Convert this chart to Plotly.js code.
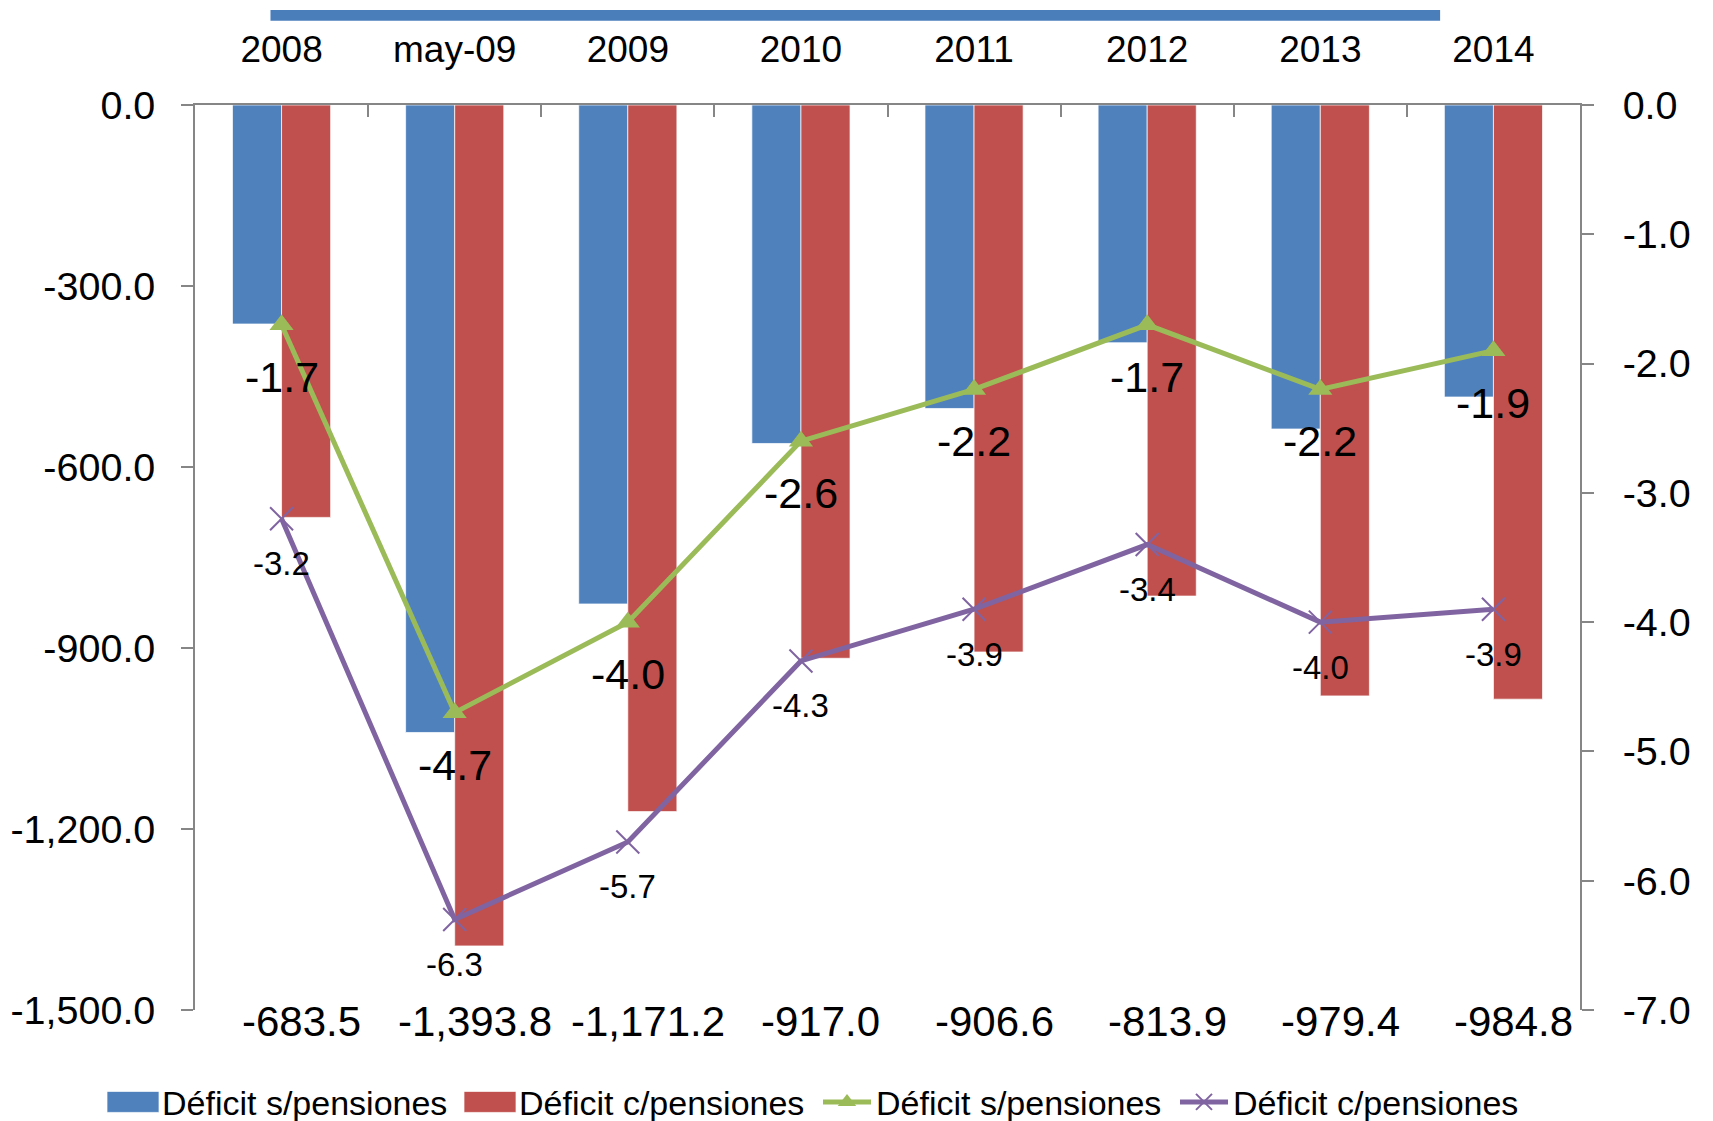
<!DOCTYPE html>
<html>
<head>
<meta charset="utf-8">
<script src="https://cdn.plot.ly/plotly-3.0.1.min.js"></script>
<style>html,body{margin:0;padding:0;background:#fff;}#chart{width:1713px;height:1121px;}</style>
</head>
<body>
<div id="chart"></div>
<script>
// ---- data ----
const categories = ["2008", "may-09", "2009", "2010", "2011", "2012", "2013", "2014"];
const deficitSinPensiones = [-363, -1040, -827, -561, -503, -394, -537, -484];          // blue bars (left axis)
const deficitConPensiones = [-683.5, -1393.8, -1171.2, -917.0, -906.6, -813.9, -979.4, -984.8]; // red bars (left axis)
const pctSinPensiones = [-1.7, -4.7, -4.0, -2.6, -2.2, -1.7, -2.2, -1.9];             // green line (right axis)
const pctConPensiones = [-3.2, -6.3, -5.7, -4.3, -3.9, -3.4, -4.0, -3.9];             // purple line (right axis)
const leftTicks = [0, -300, -600, -900, -1200, -1500];
const rightTicks = [0, -1, -2, -3, -4, -5, -6, -7];
const seriesNames = ["Déficit s/pensiones", "Déficit c/pensiones", "Déficit s/pensiones", "Déficit c/pensiones"];

// ---- helpers ----
function fmt(v, dec) {
  const neg = v < 0;
  const s = Math.abs(v).toFixed(dec);
  const parts = s.split(".");
  parts[0] = parts[0].replace(/\B(?=(\d{3})+(?!\d))/g, ",");
  return (neg ? "-" : "") + parts.join(".");
}

const FONT = "Liberation Sans, Arial, sans-serif";
const C_BLUE = "#4F81BD", C_RED = "#C0504D", C_GREEN = "#9BBB59", C_PURPLE = "#8064A2";
const AXIS = "#868686";

const traces = [
  {type: "bar", name: seriesNames[0], x: categories, y: deficitSinPensiones, yaxis: "y",
   marker: {color: C_BLUE, line: {color: "rgba(255,255,255,0.7)", width: 1}}, hoverinfo: "x+y"},
  {type: "bar", name: seriesNames[1], x: categories, y: deficitConPensiones, yaxis: "y",
   marker: {color: C_RED, line: {color: "rgba(255,255,255,0.7)", width: 1}}, hoverinfo: "x+y"},
  {type: "scatter", mode: "lines+markers", name: seriesNames[2], x: categories, y: pctSinPensiones, yaxis: "y2",
   line: {color: C_GREEN, width: 5}, marker: {symbol: "triangle-up", size: 21, color: C_GREEN}},
  {type: "scatter", mode: "lines+markers", name: seriesNames[3], x: categories, y: pctConPensiones, yaxis: "y2",
   line: {color: C_PURPLE, width: 5}, marker: {symbol: "x-thin", size: 23, color: C_PURPLE, line: {color: C_PURPLE, width: 2}}}
];

const annotations = [];
categories.forEach((c, i) => {
  annotations.push({x: i, y: pctSinPensiones[i], xref: "x", yref: "y2", text: fmt(pctSinPensiones[i], 1),
    showarrow: false, yshift: -52, font: {family: FONT, size: 43, color: "#000"}});
  annotations.push({x: i, y: pctConPensiones[i], xref: "x", yref: "y2", text: fmt(pctConPensiones[i], 1),
    showarrow: false, yshift: -45, font: {family: FONT, size: 33, color: "#000"}});
  annotations.push({x: i, y: 0, xref: "x", yref: "paper", yanchor: "middle", text: fmt(deficitConPensiones[i], 1),
    showarrow: false, yshift: -11, xshift: 20, font: {family: FONT, size: 42, color: "#000"}});
});

const layout = {
  width: 1713, height: 1121,
  margin: {l: 195, r: 133, t: 105, b: 111, pad: 0, autoexpand: false},
  paper_bgcolor: "#fff", plot_bgcolor: "#fff",
  font: {family: FONT, size: 38, color: "#000"},
  barmode: "group", bargap: 0.433, bargroupgap: 0,
  showlegend: true,
  legend: {orientation: "h", xref: "paper", yref: "paper", x: -0.0657, xanchor: "left", y: -0.102, yanchor: "middle",
    font: {family: FONT, size: 34, color: "#000"}, itemwidth: 48, entrywidth: 294, entrywidthmode: "pixels",
    tracegroupgap: 0, traceorder: "normal", borderwidth: 0},
  xaxis: {type: "category", side: "top", showline: true, linecolor: AXIS, linewidth: 1.5,
    ticks: "inside", tickson: "boundaries", ticklen: 12, tickcolor: AXIS, tickwidth: 1.5,
    showgrid: false, zeroline: false, ticklabelstandoff: 26,
    tickfont: {family: FONT, size: 37, color: "#000"}, range: [-0.5, 7.5]},
  yaxis: {range: [-1500, 0], tickvals: leftTicks, ticktext: leftTicks.map(v => fmt(v, 1)),
    showline: true, linecolor: AXIS, linewidth: 1.5, ticks: "outside", ticklen: 12, tickcolor: AXIS, tickwidth: 1.5,
    showgrid: false, zeroline: false, ticklabelstandoff: 18,
    tickfont: {family: FONT, size: 39.5, color: "#000"}},
  yaxis2: {range: [-7, 0], overlaying: "y", side: "right", tickvals: rightTicks, ticktext: rightTicks.map(v => fmt(v, 1)),
    showline: true, linecolor: AXIS, linewidth: 1.5, ticks: "outside", ticklen: 12, tickcolor: AXIS, tickwidth: 1.5,
    showgrid: false, zeroline: false, ticklabelstandoff: 21,
    tickfont: {family: FONT, size: 39.5, color: "#000"}},
  shapes: [
    {type: "rect", xref: "paper", yref: "paper", x0: 0.0545, x1: 0.899, y0: 1.093, y1: 1.105,
     fillcolor: "#4A7EBB", line: {width: 0}, layer: "above"}
  ],
  annotations: annotations
};

Plotly.newPlot("chart", traces, layout, {displayModeBar: false, responsive: false}).then(gd => {
  // enlarge the bar swatches in the legend to wide rectangles, like the reference
  gd.querySelectorAll(".legend path.legendbar, .legend path.legendundefined").forEach(p => {
    p.setAttribute("d", "M26,10.5H-26V-10.5H26Z");
  });
});
</script>
</body>
</html>
